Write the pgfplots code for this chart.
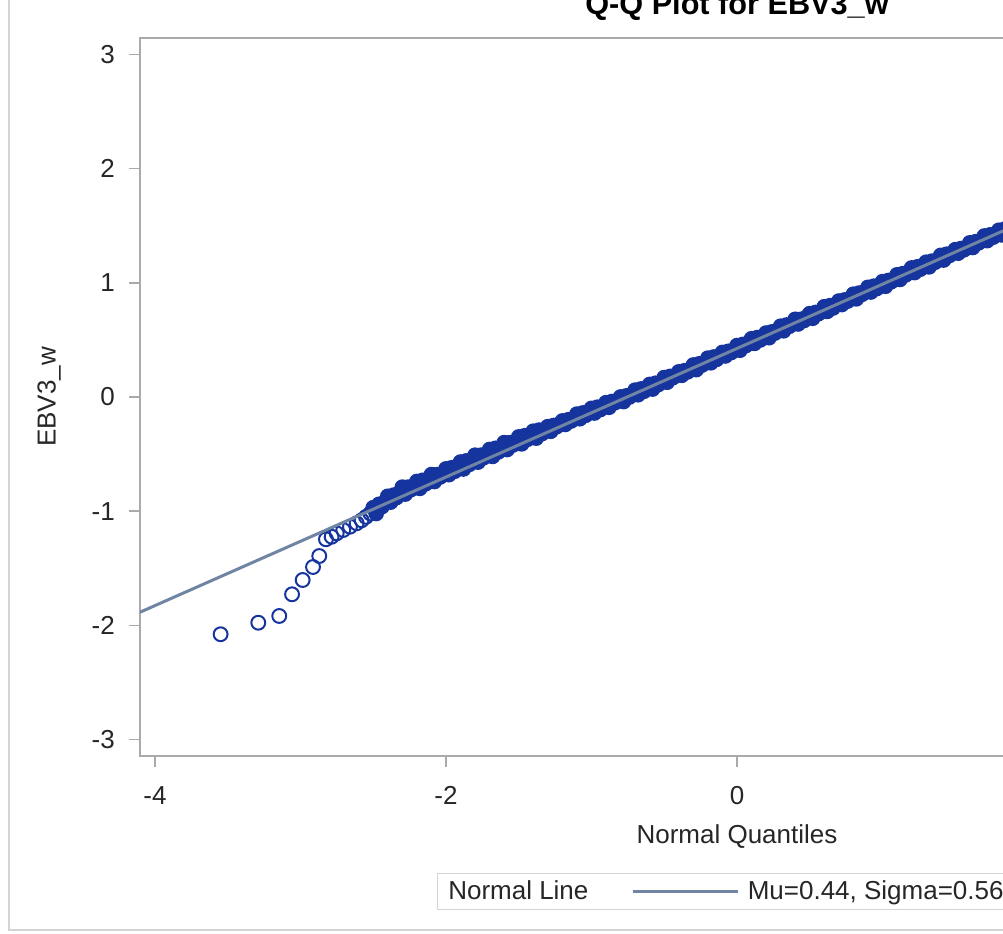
\documentclass[border=0pt]{standalone}
\usepackage{fontspec}
\setmainfont{Liberation Sans}
\usepackage{pgfplots}
\usepackage{pgfplotstable}
\pgfplotsset{compat=1.18}
\definecolor{markblue}{RGB}{22,52,158}
\definecolor{linegray}{RGB}{112,132,163}
\definecolor{axgray}{RGB}{170,170,170}
\definecolor{framegray}{RGB}{212,212,212}
\newcommand\lblfont{\fontsize{19.5}{23}\selectfont}

\pgfplotstableread{
x y
-3.549 -2.078
-3.290 -1.977
-3.146 -1.918
-3.058 -1.728
-2.985 -1.603
-2.914 -1.489
-2.871 -1.393
-2.825 -1.246
-2.786 -1.224
-2.751 -1.194
-2.706 -1.165
-2.660 -1.136
-2.614 -1.106
-2.58 -1.08
-2.55 -1.05
-2.52 -1.02
}\taildata

\pgfplotstableread{
x y
-2.50 -0.97
-2.48 -1.02
-2.46 -0.94
-2.44 -0.96
-2.42 -0.92
-2.40 -0.87
-2.38 -0.92
-2.36 -0.86
-2.34 -0.88
-2.32 -0.84
-2.30 -0.79
-2.28 -0.85
-2.26 -0.79
-2.24 -0.81
-2.22 -0.78
-2.20 -0.74
-2.18 -0.80
-2.16 -0.73
-2.14 -0.76
-2.12 -0.73
-2.10 -0.68
-2.08 -0.74
-2.06 -0.68
-2.04 -0.70
-2.02 -0.67
-2.00 -0.63
-1.98 -0.68
-1.96 -0.62
-1.94 -0.65
-1.92 -0.62
-1.90 -0.57
-1.88 -0.63
-1.86 -0.56
-1.84 -0.59
-1.82 -0.56
-1.80 -0.51
-1.78 -0.57
-1.76 -0.51
-1.74 -0.53
-1.72 -0.50
-1.70 -0.46
-1.68 -0.52
-1.66 -0.45
-1.64 -0.48
-1.62 -0.45
-1.60 -0.40
-1.58 -0.46
-1.56 -0.40
-1.54 -0.42
-1.52 -0.39
-1.50 -0.35
-1.48 -0.41
-1.46 -0.34
-1.44 -0.37
-1.42 -0.34
-1.40 -0.30
-1.38 -0.36
-1.36 -0.29
-1.34 -0.32
-1.32 -0.29
-1.30 -0.26
-1.28 -0.30
-1.26 -0.25
-1.24 -0.26
-1.22 -0.24
-1.20 -0.21
-1.18 -0.24
-1.16 -0.20
-1.14 -0.21
-1.12 -0.19
-1.10 -0.15
-1.08 -0.19
-1.06 -0.14
-1.04 -0.16
-1.02 -0.13
-1.00 -0.10
-0.98 -0.14
-0.96 -0.09
-0.94 -0.11
-0.92 -0.08
-0.90 -0.05
-0.88 -0.09
-0.86 -0.04
-0.84 -0.05
-0.82 -0.03
-0.80 0.00
-0.78 -0.04
-0.76 0.01
-0.74 0.00
-0.72 0.02
-0.70 0.06
-0.68 0.02
-0.66 0.07
-0.64 0.05
-0.62 0.08
-0.60 0.11
-0.58 0.07
-0.56 0.12
-0.54 0.11
-0.52 0.13
-0.50 0.17
-0.48 0.13
-0.46 0.18
-0.44 0.17
-0.42 0.19
-0.40 0.22
-0.38 0.19
-0.36 0.23
-0.34 0.22
-0.32 0.24
-0.30 0.28
-0.28 0.24
-0.26 0.29
-0.24 0.28
-0.22 0.30
-0.20 0.34
-0.18 0.30
-0.16 0.35
-0.14 0.33
-0.12 0.36
-0.10 0.39
-0.08 0.36
-0.06 0.40
-0.04 0.39
-0.02 0.41
0.00 0.45
0.02 0.41
0.04 0.46
0.06 0.45
0.08 0.47
0.10 0.51
0.12 0.47
0.14 0.52
0.16 0.50
0.18 0.53
0.20 0.56
0.22 0.52
0.24 0.57
0.26 0.56
0.28 0.58
0.30 0.62
0.32 0.58
0.34 0.63
0.36 0.62
0.38 0.64
0.40 0.68
0.42 0.64
0.44 0.68
0.46 0.67
0.48 0.70
0.50 0.73
0.52 0.69
0.54 0.74
0.56 0.73
0.58 0.75
0.60 0.79
0.62 0.75
0.64 0.80
0.66 0.78
0.68 0.81
0.70 0.84
0.72 0.81
0.74 0.85
0.76 0.84
0.78 0.86
0.80 0.90
0.82 0.86
0.84 0.91
0.86 0.90
0.88 0.92
0.90 0.96
0.92 0.92
0.94 0.97
0.96 0.95
0.98 0.98
1.00 1.01
1.02 0.97
1.04 1.02
1.06 1.01
1.08 1.03
1.10 1.07
1.12 1.03
1.14 1.08
1.16 1.07
1.18 1.09
1.20 1.13
1.22 1.09
1.24 1.14
1.26 1.12
1.28 1.15
1.30 1.18
1.32 1.14
1.34 1.19
1.36 1.18
1.38 1.20
1.40 1.24
1.42 1.20
1.44 1.25
1.46 1.24
1.48 1.26
1.50 1.29
1.52 1.26
1.54 1.30
1.56 1.29
1.58 1.31
1.60 1.35
1.62 1.31
1.64 1.36
1.66 1.35
1.68 1.37
1.70 1.41
1.72 1.37
1.74 1.42
1.76 1.40
1.78 1.43
1.80 1.46
1.82 1.42
1.84 1.47
1.86 1.46
1.88 1.48
1.90 1.52
1.92 1.48
1.94 1.53
1.96 1.52
1.98 1.54
}\densedata

\begin{document}
\begin{tikzpicture}
\begin{axis}[
  at={(0,0)}, anchor=south west,
  scale only axis, width=895.5pt, height=538.5pt,
  xmin=-4.103, xmax=4.103, ymin=-3.1445, ymax=3.1445,
  xtick={-4,-2,0,2,4}, ytick={-3,-2,-1,0,1,2,3},
  tick pos=left,
  tick align=outside, major tick length=8.25pt,
  clip marker paths=true,
  axis line style={axgray, line width=1.5pt},
  every tick/.style={axgray, line width=1.2pt},
  /pgf/number format/assume math mode=true,
  tick label style={font=\lblfont, text=black!85},
  yticklabel style={anchor=east, inner sep=0pt, xshift=-10.5pt},
  xticklabel style={anchor=north, inner sep=0pt, yshift=-14.25pt},
  xlabel={Normal Quantiles}, ylabel={EBV3\_w},
  label style={font=\lblfont, text=black!85},
  xlabel style={at={(axis description cs:0.5,-0.1128)}, anchor=center},
  ylabel style={at={(axis description cs:-0.0762,0.5)}, anchor=center},
  legend columns=2,
  legend style={at={(0.2487,-0.163)}, anchor=north west, draw=framegray, line width=1pt,
    font=\lblfont, text=black!85, inner xsep=6pt, inner ysep=3.5pt,
    /tikz/every even column/.append style={column sep=30pt}},
]
\coordinate (A) at (rel axis cs:0,0);
\addplot[only marks, mark=o, mark size=5.2pt, color=markblue,
  mark options={line width=1.5pt}, forget plot] table {\taildata};
\addplot[only marks, mark=*, mark size=5.3pt, color=markblue,
  mark options={line width=1.2pt, draw=markblue, fill=markblue}, forget plot] table {\densedata};
\addlegendimage{empty legend}
\addlegendentry{Normal Line}
\addplot[linegray, line width=2.25pt,
  legend image code/.code={\draw[linegray, line width=2.25pt] (0pt,0pt) -- (78.75pt,0pt);}]
  coordinates {(-4.103,-1.885) (4.103,2.735)};
\addlegendentry{\hspace{4.5pt}Mu=0.44, Sigma=0.56}
\end{axis}
\begin{scope}[shift={(A)}]
\draw[framegray, line width=1.5pt] (-98.25pt,580pt) -- (-98.25pt,-130.5pt) -- (700pt,-130.5pt);
\node[anchor=base, font=\bfseries\fontsize{23}{27}\selectfont, text=black] at (447.75pt,555.75pt) {Q-Q Plot for EBV3\_w};
\pgfresetboundingbox
\useasboundingbox (-105pt,-132.75pt) rectangle (647.25pt,567pt);
\end{scope}
\end{tikzpicture}
\end{document}
